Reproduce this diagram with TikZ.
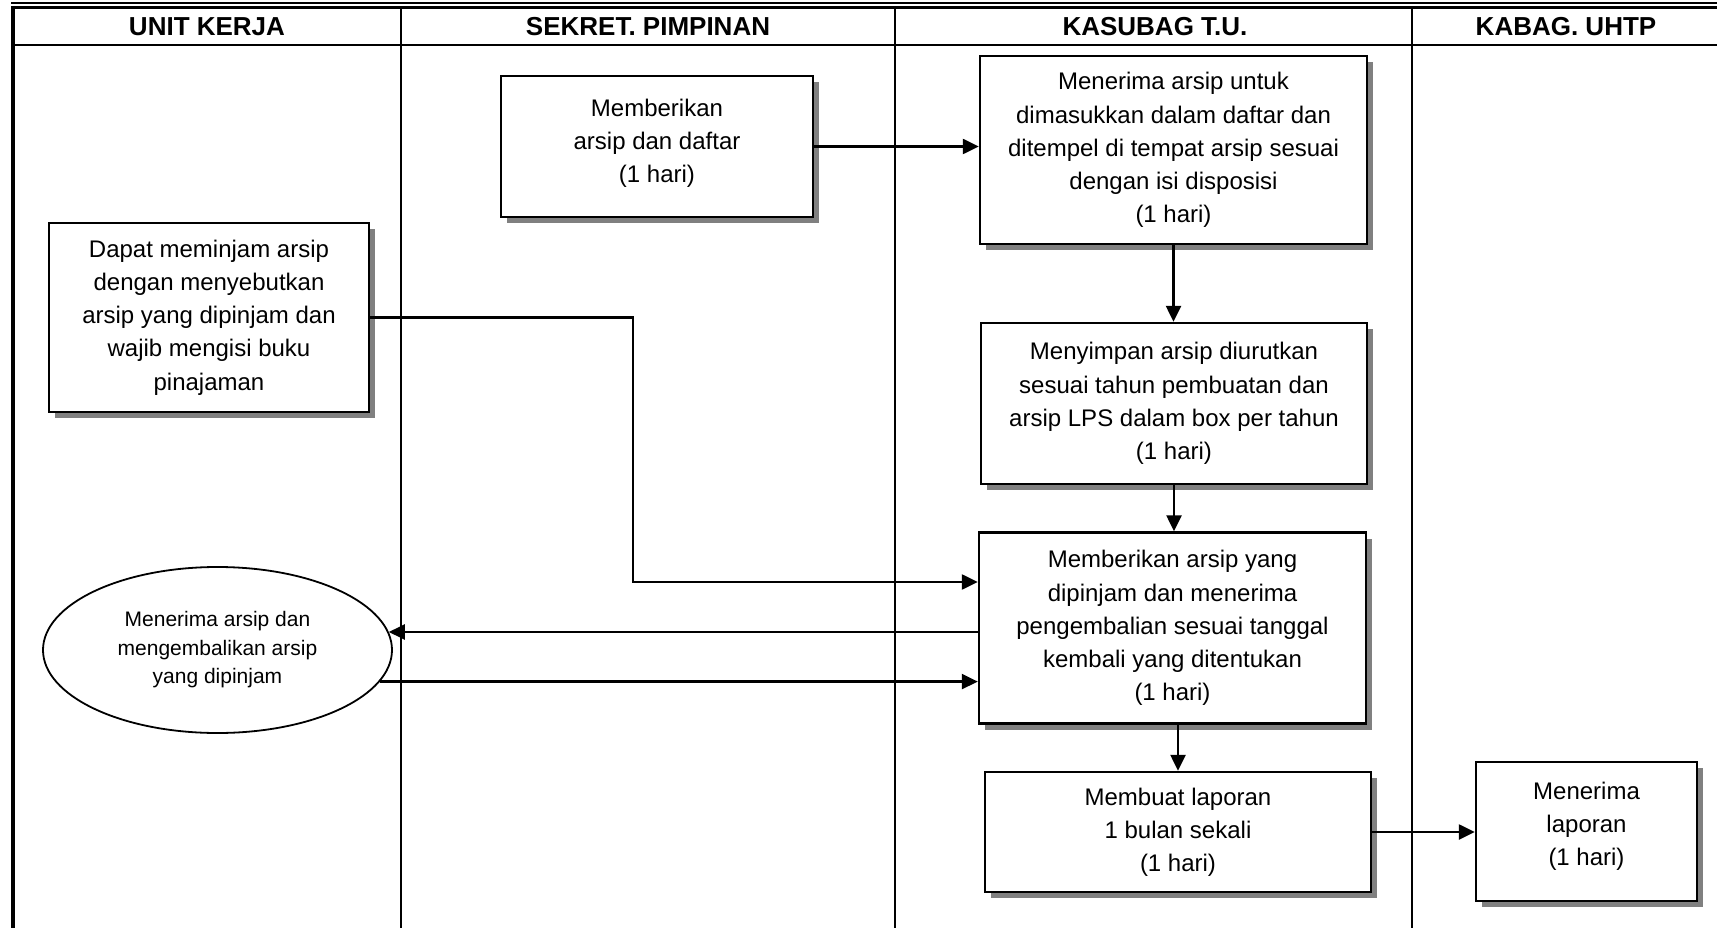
\documentclass[tikz,border=0pt]{standalone}
\usepackage{fontspec}
\setmainfont{Liberation Sans}
\usetikzlibrary{arrows.meta,shapes.geometric,shadows}

\begin{document}
\begin{tikzpicture}[x=1pt,y=-1pt,
  lane/.style={line width=2.2pt},
  head/.style={font=\fontsize{26}{30}\selectfont\bfseries, inner sep=0pt},
  stepbox/.style={draw, line width=2.4pt, fill=white, align=center, inner sep=0pt,
    font=\fontsize{24}{33.2}\selectfont,
    drop shadow={shadow xshift=6pt, shadow yshift=-6pt, fill=black!50, opacity=1}},
  oval/.style={draw, ellipse, line width=1.8pt, fill=white, align=center, inner sep=0pt,
    font=\fontsize{21}{28.5}\selectfont},
  arr/.style={line width=2.4pt, -{Triangle[length=16pt,width=15pt]}}
]
\useasboundingbox (0,0) rectangle (1717,928);
\fill[white] (0,0) rectangle (1717,928);

% swimlane frame
\draw[line width=1.5pt] (11,3) -- (1717,3);
\draw[line width=3.5pt] (11,7.5) -- (1717,7.5);
\draw[line width=4pt] (12.5,6) -- (12.5,928);
\draw[lane] (13,45) -- (1717,45);
\draw[lane] (401,7.5) -- (401,928);
\draw[lane] (895,7.5) -- (895,928);
\draw[lane] (1412,7.5) -- (1412,928);

% lane titles
\node[head] (h1) at (207,27) {UNIT KERJA};
\node[head] (h2) at (648,27) {SEKRET. PIMPINAN};
\node[head] (h3) at (1155,27) {KASUBAG T.U.};
\node[head] (h4) at (1566,27) {KABAG. UHTP};

% process steps
\node[stepbox, minimum width=312pt, minimum height=141pt] (mem) at (657,146.5)
  {Memberikan\\arsip dan daftar\\(1 hari)\\[-21.6pt]};
\node[stepbox, minimum width=387pt, minimum height=188pt] (k1) at (1173.5,150)
  {Menerima arsip untuk\\dimasukkan dalam daftar dan\\ditempel di tempat arsip sesuai\\dengan isi disposisi\\(1 hari)};
\node[stepbox, minimum width=320pt, minimum height=189pt] (uk) at (209,317.5)
  {Dapat meminjam arsip\\dengan menyebutkan\\arsip yang dipinjam dan\\wajib mengisi buku\\pinajaman};
\node[stepbox, minimum width=386pt, minimum height=161pt] (k2) at (1174,403.5)
  {Menyimpan arsip diurutkan\\sesuai tahun pembuatan dan\\arsip LPS dalam box per tahun\\(1 hari)};
\node[stepbox, minimum width=387pt, minimum height=191pt] (k3) at (1172.5,628)
  {Memberikan arsip yang\\dipinjam dan menerima\\pengembalian sesuai tanggal\\kembali yang ditentukan\\(1 hari)};
\node[oval, minimum width=349pt, minimum height=166pt] (ell) at (217.5,650)
  {Menerima arsip dan\\mengembalikan arsip\\yang dipinjam};
\node[stepbox, minimum width=386pt, minimum height=120pt] (k4) at (1178,832)
  {Membuat laporan\\1 bulan sekali\\(1 hari)};
\node[stepbox, minimum width=221pt, minimum height=139pt] (kb) at (1586.5,831.5)
  {Menerima\\laporan\\(1 hari)\\[-17.6pt]};

% connectors
\draw[arr] (mem.east) -- (mem.east -| k1.west);
\draw[arr] (k1.south) -- (k1.south |- k2.north);
\draw[arr] (k2.south) -- (k2.south |- k3.north);
\draw[arr] (k4.north |- k3.south) -- (k4.north);
\draw[arr] (k4.east) -- (k4.east -| kb.west);

\coordinate (bend) at (633,582);
\draw[arr] (uk.east) -| (bend) -- (bend -| k3.west);

\draw[arr] ([yshift=-4pt]k3.west) -- ([yshift=-4pt]k3.west -| ell.6);
\draw[arr] (ell.-11.6) -- (ell.-11.6 -| k3.west);
\end{tikzpicture}
\end{document}
